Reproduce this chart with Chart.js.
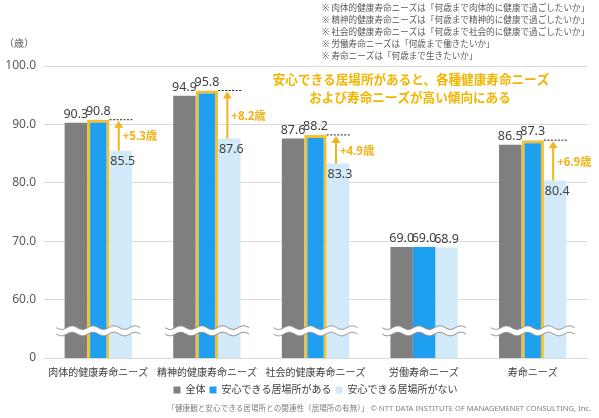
<!DOCTYPE html>
<html>
<head>
<meta charset="utf-8">
<script src="https://cdn.jsdelivr.net/npm/chart.js@4"></script>
<style>
  html, body { margin: 0; padding: 0; background: #fff; }
  #wrap { position: relative; width: 599px; height: 418px; }
</style>
</head>
<body>
<div id="wrap"><canvas id="needsChart"></canvas></div>
<script>
// --- data ---
const categories = ['肉体的健康寿命ニーズ', '精神的健康寿命ニーズ', '社会的健康寿命ニーズ', '労働寿命ニーズ', '寿命ニーズ'];
const seriesNames = ['全体', '安心できる居場所がある', '安心できる居場所がない'];
const allValues = [90.3, 94.9, 87.6, 69.0, 86.5];
const withPlace = [90.8, 95.8, 88.2, 69.0, 87.3];
const withoutPlace = [85.5, 87.6, 83.3, 68.9, 80.4];
const gapLabels = ['+5.3歳', '+8.2歳', '+4.9歳', null, '+6.9歳'];
const yTicks = [50, 60, 70, 80, 90, 100];   // 50 is shown as "0" (broken axis)

const notes = [
    '※ 肉体的健康寿命ニーズは「何歳まで肉体的に健康で過ごしたいか」',
    '※ 精神的健康寿命ニーズは「何歳まで精神的に健康で過ごしたいか」',
    '※ 社会的健康寿命ニーズは「何歳まで社会的に健康で過ごしたいか」',
    '※ 労働寿命ニーズは「何歳まで働きたいか」',
    '※ 寿命ニーズは「何歳まで生きたいか」'
];
const message = ['安心できる居場所があると、各種健康寿命ニーズ', 'および寿命ニーズが高い傾向にある'];
const footer = '「健康観と安心できる居場所との関連性（居場所の有無）」 © NTT DATA INSTITUTE OF MANAGEMENET CONSULTING, Inc.';

const FONT = '"Noto Sans", "Noto Sans CJK JP", sans-serif';
const ORANGE = '#f0b41c';
const TEXT = '#404040';

// wavy axis-break marks over every group
const breakPlugin = {
    id: 'breakMarks',
    afterDatasetsDraw(chart) {
        const ctx = chart.ctx;
        const x = chart.scales.x, y = chart.scales.y;
        const yTop = y.getPixelForValue(55.2);
        const yBot = y.getPixelForValue(54.1);
        categories.forEach((c, i) => {
            const cx = x.getPixelForValue(i);
            const x0 = cx - 42, x1 = cx + 42;
            const wave = yy => {
                for (let px = x0; px <= x1; px += 1) {
                    const py = yy + Math.sin((px - x0) / 21 * Math.PI * 2) * 1.8;
                    if (px === x0) ctx.moveTo(px, py); else ctx.lineTo(px, py);
                }
            };
            ctx.save();
            ctx.beginPath();
            wave(yTop);
            for (let px = x1; px >= x0; px -= 1) {
                ctx.lineTo(px, yBot + Math.sin((px - x0) / 21 * Math.PI * 2) * 1.8);
            }
            ctx.closePath();
            ctx.fillStyle = '#fff';
            ctx.fill();
            ctx.strokeStyle = '#8c8c8c';
            ctx.lineWidth = 1;
            ctx.beginPath(); wave(yTop); ctx.stroke();
            ctx.beginPath(); wave(yBot); ctx.stroke();
            ctx.restore();
        });
    }
};

// value labels, gap arrows and free text
const annotatePlugin = {
    id: 'annotate',
    afterDatasetsDraw(chart) {
        const ctx = chart.ctx;
        const y = chart.scales.y;
        ctx.save();
        ctx.font = '12.5px ' + FONT;
        ctx.fillStyle = TEXT;
        ctx.textAlign = 'center';
        chart.data.datasets.forEach((ds, di) => {
            chart.getDatasetMeta(di).data.forEach((bar, i) => {
                const txt = ds.data[i].toFixed(1);
                if (di === 2 && gapLabels[i]) {
                    ctx.textBaseline = 'top';
                    ctx.fillText(txt, bar.x + 2, bar.y + 5);
                } else {
                    ctx.textBaseline = 'bottom';
                    ctx.fillText(txt, bar.x, bar.y - 2);
                }
            });
        });

        const blueMeta = chart.getDatasetMeta(1).data;
        const lightMeta = chart.getDatasetMeta(2).data;
        gapLabels.forEach((lbl, i) => {
            if (!lbl) return;
            const b = blueMeta[i], l = lightMeta[i];
            const topY = y.getPixelForValue(withPlace[i]);
            const lowY = y.getPixelForValue(withoutPlace[i]);
            // dashed reference line
            ctx.strokeStyle = '#222';
            ctx.lineWidth = 1;
            ctx.setLineDash([2, 1.5]);
            ctx.beginPath();
            ctx.moveTo(b.x + b.width / 2, topY);
            ctx.lineTo(l.x + l.width / 2 + 1, topY);
            ctx.stroke();
            ctx.setLineDash([]);
            // arrow
            const ax = l.x - 2;
            ctx.strokeStyle = ORANGE;
            ctx.fillStyle = ORANGE;
            ctx.lineWidth = 2;
            ctx.beginPath();
            ctx.moveTo(ax, lowY);
            ctx.lineTo(ax, topY + 6);
            ctx.stroke();
            ctx.beginPath();
            ctx.moveTo(ax, topY + 1);
            ctx.lineTo(ax - 4.5, topY + 8);
            ctx.lineTo(ax + 4.5, topY + 8);
            ctx.closePath();
            ctx.fill();
            ctx.font = 'bold 11.5px ' + FONT;
            ctx.textAlign = 'left';
            ctx.textBaseline = 'middle';
            ctx.fillText(lbl, ax + 4, (topY + lowY) / 2 + 2);
        });

        // unit
        ctx.fillStyle = '#595959';
        ctx.font = '10px ' + FONT;
        ctx.textAlign = 'left';
        ctx.textBaseline = 'middle';
        ctx.fillText('（歳）', 4, 44);

        // notes
        ctx.font = '8.6px ' + FONT;
        ctx.fillStyle = '#595959';
        notes.forEach((n, k) => ctx.fillText(n, 322, 9 + k * 11.8));

        // message
        ctx.font = 'bold 12.6px ' + FONT;
        ctx.fillStyle = '#f2b600';
        ctx.textAlign = 'center';
        ctx.fillText(message[0], 411, 80);
        ctx.fillText(message[1], 410, 98);

        // footer
        ctx.font = '7.6px ' + FONT;
        ctx.fillStyle = '#7f7f7f';
        ctx.textAlign = 'right';
        ctx.fillText(footer, 591, 409);
        ctx.restore();
    }
};

new Chart(document.getElementById('needsChart'), {
    type: 'bar',
    data: {
        labels: categories,
        datasets: [{
            label: seriesNames[0],
            data: allValues,
            backgroundColor: '#7f7f7f',
            borderWidth: 0
        }, {
            label: seriesNames[1],
            data: withPlace,
            backgroundColor: '#1f9ff0',
            borderColor: '#f2c12e',
            borderWidth: [3, 3, 3, 0, 3],
            borderSkipped: false
        }, {
            label: seriesNames[2],
            data: withoutPlace,
            backgroundColor: '#d1e9f9',
            borderWidth: 0
        }]
    },
    options: {
        responsive: true,
        maintainAspectRatio: false,
        animation: false,
        layout: { padding: { top: 66, right: 12, bottom: 13, left: 0 } },
        datasets: { bar: { categoryPercentage: 0.62, barPercentage: 1.0 } },
        plugins: {
            tooltip: { enabled: false },
            legend: {
                position: 'bottom',
                fullSize: false,
                labels: {
                    boxWidth: 7,
                    boxHeight: 7,
                    padding: 4,
                    color: TEXT,
                    font: { size: 10, family: FONT },
                    generateLabels: chart => chart.data.datasets.map((d, i) => ({
                        text: d.label,
                        fillStyle: d.backgroundColor,
                        strokeStyle: d.backgroundColor,
                        lineWidth: 0,
                        hidden: false,
                        datasetIndex: i,
                        fontColor: TEXT
                    }))
                }
            }
        },
        scales: {
            x: {
                afterFit: s => { s.height = 23; },
                grid: { display: false, drawTicks: false },
                border: { color: '#d9d9d9' },
                ticks: { color: TEXT, font: { size: 10, family: FONT }, padding: 9, maxRotation: 0, autoSkip: false }
            },
            y: {
                min: 50,
                max: 100,
                afterFit: s => { s.width = 44; },
                afterBuildTicks: s => { s.ticks = yTicks.map(v => ({ value: v })); },
                grid: { color: '#d9d9d9', drawTicks: false },
                border: { display: false },
                ticks: {
                    color: '#595959',
                    padding: 8,
                    font: { size: 12, family: FONT },
                    callback: v => v === 50 ? '0' : v.toFixed(1)
                }
            }
        }
    },
    plugins: [breakPlugin, annotatePlugin]
});
</script>
</body>
</html>
